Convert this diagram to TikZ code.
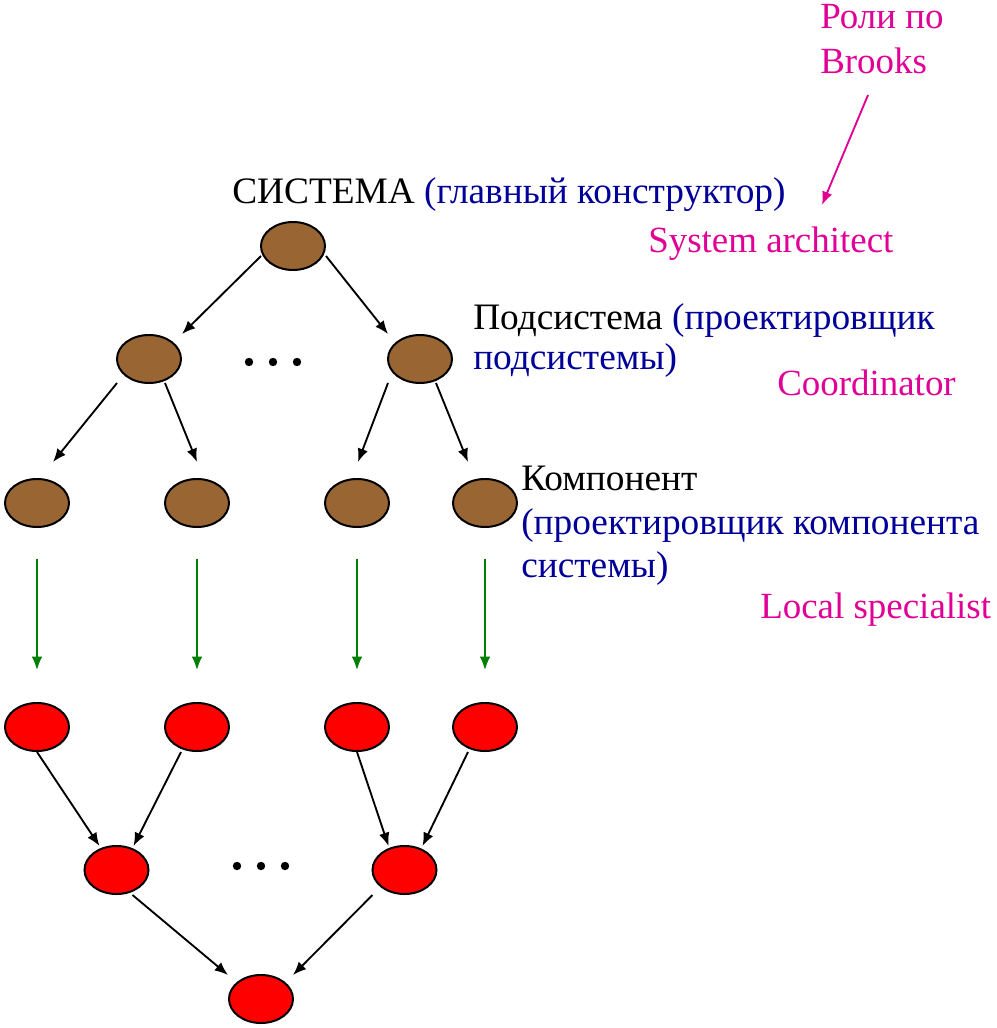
\documentclass[tikz,border=0pt]{standalone}
\usepackage{fontspec}
\setmainfont{Liberation Serif}
\usetikzlibrary{shapes.geometric,arrows.meta,calc}
\definecolor{brownfill}{RGB}{153,102,51}
\definecolor{navy}{RGB}{0,0,153}
\definecolor{magentatext}{RGB}{224,0,150}
\definecolor{arrowgreen}{RGB}{0,128,0}
\begin{document}
\begin{tikzpicture}[x=0.75pt,y=-0.75pt,
  oval/.style={ellipse,draw=black,line width=1.5pt,minimum width=48pt,minimum height=36pt,inner sep=0pt},
  brownnode/.style={oval,fill=brownfill},
  rednode/.style={oval,fill=red},
  conn/.style={-{Latex[length=10pt,width=8pt]},line width=1.4pt,draw=black},
  greenconn/.style={conn,draw=arrowgreen},
  magconn/.style={conn,draw=magentatext},
  lbl/.style={font=\fontsize{28}{31.5}\selectfont,anchor=base west,inner sep=0pt},
  maglbl/.style={lbl,font=\fontsize{27.7}{31}\selectfont,text=magentatext},
  dotnode/.style={circle,fill=black,inner sep=0pt,minimum size=6.3pt}
]
\useasboundingbox (0,0) rectangle (996,1028);

% ellipses
\node[brownnode] (top) at (293,246) {};
\node[brownnode] (s1) at (149,359) {};
\node[brownnode] (s2) at (420,359) {};
\node[brownnode] (c1) at (37,503) {};
\node[brownnode] (c2) at (197,503) {};
\node[brownnode] (c3) at (357,503) {};
\node[brownnode] (c4) at (485,503) {};
\node[rednode] (r1) at (37,727) {};
\node[rednode] (r2) at (197,727) {};
\node[rednode] (r3) at (357,727) {};
\node[rednode] (r4) at (485,727) {};
\node[rednode] (m1) at (116.5,870) {};
\node[rednode] (m2) at (404.5,870) {};
\node[rednode] (f) at (261,999) {};

% dots
\node[dotnode] (d1) at (249,362) {};
\node[dotnode] (d2) at (273,362) {};
\node[dotnode] (d3) at (297,362) {};
\node[dotnode] (d4) at (237,866) {};
\node[dotnode] (d5) at (261,866) {};
\node[dotnode] (d6) at (285,866) {};

% tree arrows
\draw[conn] ($(top)+(-32,10)$) -- ($(s1)+(33,-25)$);
\draw[conn] ($(top)+(33,10)$) -- ($(s2)+(-32,-25)$);
\draw[conn] ($(s1)+(-32,24)$) -- ($(c1)+(16,-41)$);
\draw[conn] ($(s1)+(16,24)$) -- ($(c2)+(0,-41)$);
\draw[conn] ($(s2)+(-32,24)$) -- ($(c3)+(1,-41)$);
\draw[conn] ($(s2)+(16,24)$) -- ($(c4)+(-17,-41)$);

% green arrows
\draw[greenconn] ($(c1)+(0,56)$) -- ($(r1)+(0,-57)$);
\draw[greenconn] ($(c2)+(0,56)$) -- ($(r2)+(0,-57)$);
\draw[greenconn] ($(c3)+(0,56)$) -- ($(r3)+(0,-57)$);
\draw[greenconn] ($(c4)+(0,56)$) -- ($(r4)+(0,-57)$);

% red tree arrows
\draw[conn] ($(r1)+(0,25)$) -- ($(m1)+(-17,-24)$);
\draw[conn] ($(r2)+(-16,25)$) -- ($(m1)+(17,-24)$);
\draw[conn] ($(r3)+(0,25)$) -- ($(m2)+(-16,-24)$);
\draw[conn] ($(r4)+(-17,25)$) -- ($(m2)+(18,-24)$);
\draw[conn] ($(m1)+(16,25)$) -- ($(f)+(-33,-24)$);
\draw[conn] ($(m2)+(-32,25)$) -- ($(f)+(32,-24)$);

% labels
\node[lbl] (lsys) at (232,203) {СИСТЕМА \textcolor{navy}{(главный конструктор)}};
\node[lbl] (lsub1) at (473,329) {Подсистема \textcolor{navy}{(проектировщик}};
\node[lbl,text=navy] (lsub2) at (473,369) {подсистемы)};
\node[lbl] (lcomp1) at (521,490) {Компонент};
\node[lbl,text=navy] (lcomp2) at (521,534) {(проектировщик компонента};
\node[lbl,text=navy] (lcomp3) at (521,577) {системы)};

\node[maglbl] (roles1) at (820,28) {Роли по};
\node[maglbl] (roles2) at (820,73) {Brooks};
\node[maglbl] (arch) at (648,252) {System architect};
\node[maglbl] (coord) at (777,395) {Coordinator};
\node[maglbl] (local) at (760,618) {Local specialist};

\coordinate (mA) at (868,95);
\coordinate (mB) at (822,205);
\draw[magconn] (mA) -- (mB);
\end{tikzpicture}
\end{document}
